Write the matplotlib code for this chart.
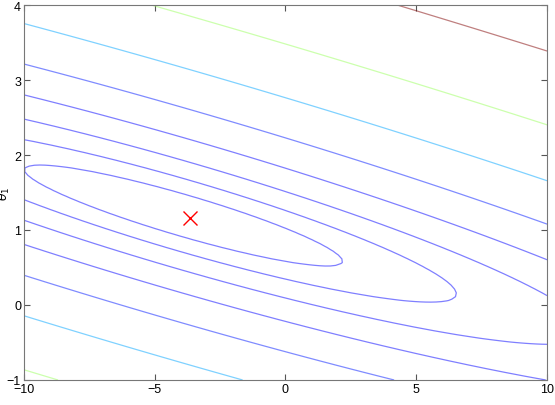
import numpy as np
import matplotlib
matplotlib.use('Agg')
import matplotlib.pyplot as plt
from matplotlib.colors import Normalize

# Summary statistics of the training set (population vs. profit), m = 97
x_mean = 8.1598
y_mean = 5.8391
x2_mean = 81.40
xy_mean = 65.33
y2_mean = 64.145

# Result of gradient descent
theta_found = [-3.6303, 1.1664]

theta0_range = [-10, 10]
theta1_range = [-1, 4]
x_ticks = [-10, -5, 0, 5, 10]
y_ticks = [-1, 0, 1, 2, 3, 4]

theta0_vals = np.linspace(theta0_range[0], theta0_range[1], 100)
theta1_vals = np.linspace(theta1_range[0], theta1_range[1], 100)
T0, T1 = np.meshgrid(theta0_vals, theta1_vals)

# J(theta) = 1/(2m) * sum((theta0 + theta1*x - y)^2), expanded in moments
J_vals = 0.5 * (T0**2 + 2 * T0 * T1 * x_mean + T1**2 * x2_mean
                - 2 * T0 * y_mean - 2 * T1 * xy_mean + y2_mean)

levels = np.logspace(-2, 3, 20)
shown = levels[(levels > J_vals.min()) & (levels < J_vals.max())]

# jet colours by level value, but keep the low levels plain blue
norm = Normalize(vmin=shown.min(), vmax=shown.max())
line_colors = plt.get_cmap('jet')(np.maximum(norm(shown), 0.12))

plt.rcParams['font.family'] = ['Liberation Sans', 'DejaVu Sans']
plt.rcParams['mathtext.fontset'] = 'dejavusans'

fig = plt.figure(figsize=(5.55, 4.06), dpi=100)
ax = fig.add_axes([0.043, 0.0616, 0.9427, 0.9236])

ax.contour(T0, T1, J_vals, levels=shown, colors=line_colors,
           linewidths=0.9, alpha=0.5)
ax.plot(theta_found[0], theta_found[1], 'rx', markersize=10, markeredgewidth=1.0)

ax.set_xlim(theta0_range)
ax.set_ylim(theta1_range)
ax.set_xticks(x_ticks)
ax.set_yticks(y_ticks)
ax.tick_params(direction='in', top=True, right=True, length=4, width=0.8,
               colors='#555555', labelcolor='black', labelsize=9, pad=2)
for sp in ax.spines.values():
    sp.set_color('#777777')
    sp.set_linewidth(0.8)

ax.set_xlabel(r'$\theta_0$', fontsize=9)
ax.set_ylabel(r'$\theta_1$', fontsize=9)
ax.xaxis.set_label_coords(0.5, -0.06)
ax.yaxis.set_label_coords(-0.022, 0.5)

fig.savefig('out.png', dpi=100)
